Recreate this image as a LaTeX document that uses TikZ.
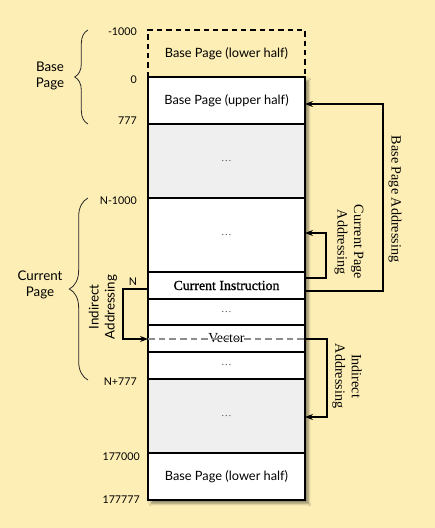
\documentclass[tikz,border=0pt]{standalone}
\usepackage{fontspec}
\setmainfont{Liberation Serif}
\newfontfamily\lightsans{Lato}
\newfontfamily\medserif[FakeBold=1.2]{Liberation Serif}
\usetikzlibrary{decorations.pathreplacing,arrows.meta,shadows.blur,calc}
\definecolor{bg}{HTML}{FDEEB5}
\definecolor{grayfill}{HTML}{EFEFEF}
\newcommand\mrow[5]{%
  \pgfmathsetlengthmacro\rh{(#3-#2)*0.75pt}%
  \node[rowbox, fill=#4, minimum height=\rh] (#1) at (226.5,{(#2+#3)/2}) {#5};}
\begin{document}
\begin{tikzpicture}[x=0.75pt,y=-0.75pt,
  rowbox/.style={draw=black, line width=0.8pt, minimum width=117.75pt, inner sep=0pt, outer sep=0pt},
  boxtxt/.style={font=\lightsans\fontsize{9.6}{10}\selectfont},
  numlab/.style={font=\lightsans\fontsize{8}{9}\selectfont, anchor=east, inner sep=0pt},
  sidelab/.style={font=\lightsans\fontsize{10}{12}\selectfont, align=center, inner sep=0pt},
  rotlab/.style={font=\fontsize{10.6}{12.5}\selectfont, align=center, inner sep=0pt},
  conn/.style={draw=black, line width=0.8pt},
  arr/.style={conn, -{Stealth[length=6pt,width=4.5pt]}},
  bracestyle/.style={draw=black!85, line width=0.6pt, decorate}
]
\fill[bg] (0,0) rectangle (435,528);
\useasboundingbox (0,0) rectangle (435,528);

% shadow of the column
\path[fill=white, blur shadow={shadow xshift=2.5pt, shadow yshift=-2.5pt, shadow blur steps=6, shadow opacity=45}] (148,77) rectangle (305,500);

% dashed top row
\pgfmathsetlengthmacro\rh{47*0.75pt}
\node[inner sep=0pt, outer sep=0pt, minimum width=117.75pt, minimum height=\rh, boxtxt] (bpl) at (226.5,53.5) {Base Page (lower half)};
\draw[line width=0.8pt, dashed, dash pattern=on 4pt off 3pt] (bpl.south west) -- (bpl.north west) -- (bpl.north east) -- (bpl.south east);

\mrow{bpu}{77}{124}{white}{\lightsans\fontsize{9.6}{10}\selectfont Base Page (upper half)}
\mrow{ga}{124}{198}{grayfill}{\fontsize{8}{9}\selectfont\color{black!70}\dots}
\mrow{wa}{198}{272}{white}{\fontsize{8}{9}\selectfont\color{black!70}\dots}
\mrow{ci}{272}{299}{white}{\medserif\fontsize{10.4}{11}\selectfont Current Instruction}
\mrow{wb}{299}{325}{white}{\fontsize{8}{9}\selectfont\color{black!70}\dots}
\mrow{vec}{325}{352}{white}{\fontsize{10.4}{11}\selectfont Vector}
\mrow{wc}{352}{379}{white}{\fontsize{8}{9}\selectfont\color{black!70}\dots}
\mrow{gb}{379}{453}{grayfill}{\fontsize{8}{9}\selectfont\color{black!70}\dots}
\mrow{bpe}{453}{500}{white}{\lightsans\fontsize{9.6}{10}\selectfont Base Page (lower half)}

% address labels
\node[numlab] (l1) at (137,32) {-1000};
\node[numlab] (l2) at (137,80) {0};
\node[numlab] (l3) at (137,121) {777};
\node[numlab] (l4) at (137,201) {N-1000};
\node[numlab, anchor=center] (l5) at (133,282) {N};
\node[numlab] (l6) at (137,382) {N+777};
\node[numlab] (l7) at (140,457) {177000};
\node[numlab] (l8) at (140,500) {177777};

% braces
\coordinate (b1a) at (88,124);
\coordinate (b1b) at (88,30);
\coordinate (b2a) at (88,380);
\coordinate (b2b) at (88,198);
\draw[bracestyle, decoration={brace, amplitude=10pt}] (b1a) -- (b1b);
\draw[bracestyle, decoration={brace, amplitude=14pt}] (b2a) -- (b2b);
\node[sidelab] (bplab) at (50,76) {Base\\Page};
\node[sidelab] (cplab) at (40,285) {Current\\Page};

% Base page addressing
\draw[arr] ($(ci.east)+(0,5.5)$) -- ++(78,0) |- ($(bpu.east)+(0,3.5)$);
\node[rotlab, rotate=-90] (bpalab) at (395,199) {Base Page Addressing};

% Current page addressing
\draw[arr] ($(ci.east)+(0,-7.5)$) -- ++(21,0) |- ($(wa.east)+(0,-2)$);
\node[rotlab, rotate=-90] (cpalab) at (349,242) {Current Page\\Addressing};

% Indirect addressing (right)
\draw[arr] ($(vec.east)+(0,0.5)$) -- ++(22,0) |- ($(gb.east)+(0,1)$);
\node[rotlab, rotate=-90] (ialab) at (347,376) {Indirect\\Addressing};

% Indirect addressing (left)
\draw[arr] ($(ci.west)+(0,3.5)$) -- ++(-25,0) |- ($(vec.west)+(0,0.5)$);
\draw[black!45, line width=0.8pt, dashed, dash pattern=on 5pt off 3pt] ($(vec.west)+(0,0.5)$) -- ($(vec.east)+(0,0.5)$);
\node[sidelab, rotate=90] (iallab) at (103,307) {Indirect\\Addressing};
\end{tikzpicture}
\end{document}
